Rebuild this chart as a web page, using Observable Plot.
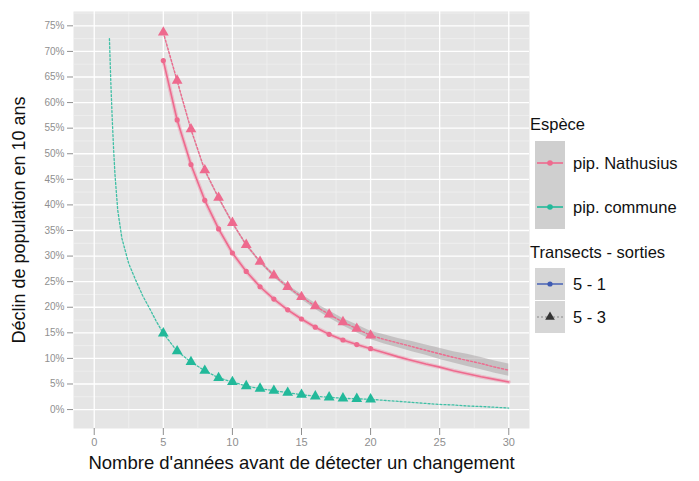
<!DOCTYPE html>
<html><head><meta charset="utf-8">
<script src="https://cdn.jsdelivr.net/npm/d3@7"></script>
<script src="https://cdn.jsdelivr.net/npm/@observablehq/plot@0.6"></script>
<style>
body{margin:0;background:#fff;}
#wrap{position:relative;width:699px;height:481px;font-family:"Liberation Sans",Arial,sans-serif;}
.lt{position:absolute;font-size:16.5px;color:#111;white-space:nowrap;line-height:1;}
.key{position:absolute;}
</style></head><body><div id="wrap"></div>
<script>
// ---- data ----
const years = [5,6,7,8,9,10,11,12,13,14,15,16,17,18,19,20,21,22,23,24,25,26,27,28,29,30];
const markerYears = [5,6,7,8,9,10,11,12,13,14,15,16,17,18,19,20];
const nathusius51 = [68.2,56.6,47.9,40.9,35.3,30.6,27.0,24.0,21.6,19.5,17.7,16.1,14.7,13.6,12.7,11.9,11.1,10.3,9.6,8.9,8.3,7.6,7.0,6.4,5.9,5.4];
const nathusius53 = [73.7,64.3,54.8,46.8,41.4,36.5,32.2,28.9,26.2,24.0,22.0,20.2,18.6,17.1,15.8,14.5,13.7,13.0,12.3,11.6,10.9,10.2,9.6,9.0,8.3,7.7];
const band53 = [0.3,0.3,0.3,0.3,0.3,0.3,0.3,0.3,0.4,0.4,0.5,0.6,0.7,0.7,0.8,0.8,0.9,0.9,1.0,1.0,1.1,1.1,1.2,1.2,1.2,1.2];
const communeYears = [1.1,1.2,1.3,1.4,1.5,1.7,2,2.5,3,3.5,4,4.5,5,6,7,8,9,10,11,12,13,14,15,16,17,18,19,20,21,22,23,24,25,26,27,28,29,30];
const commune53 = [72.5,64,57,51,46,39,33.5,28.5,25.3,22.3,19.8,17.2,14.9,11.4,9.3,7.6,6.2,5.4,4.6,4.1,3.7,3.3,2.9,2.6,2.4,2.2,2.1,2.0,1.8,1.6,1.4,1.2,1.0,0.9,0.7,0.6,0.45,0.3];
const xTicks = [0,5,10,15,20,25,30];
const xMinor = [2.5,7.5,12.5,17.5,22.5,27.5];
const yTicks = [0,5,10,15,20,25,30,35,40,45,50,55,60,65,70,75];
const yMinor = [2.5,7.5,12.5,17.5,22.5,27.5,32.5,37.5,42.5,47.5,52.5,57.5,62.5,67.5,72.5,77.5];
const species = ["pip. Nathusius","pip. commune"];
const transects = ["5 - 1","5 - 3"];
const xTitle = "Nombre d'années avant de détecter un changement";
const yTitle = "Déclin de population en 10 ans";
const legendTitles = ["Espèce","Transects - sorties"];

const PINK = "#EE6A8E", TEAL = "#22B99A", BLUE = "#3E5BB3", DARK = "#333333";

const toRows = (xs, ys) => xs.map((x,i)=>({x, y: ys[i]}));
const n51 = toRows(years, nathusius51);
const n53 = years.map((x,i)=>({x, y: nathusius53[i], lo: nathusius53[i]-band53[i], hi: nathusius53[i]+band53[i]}));
const c53 = toRows(communeYears, commune53);
const onMarkers = rows => rows.filter(d => markerYears.includes(d.x));

const chart = Plot.plot({
  width: 699, height: 481,
  marginLeft: 73, marginRight: 170, marginTop: 11, marginBottom: 53,
  style: {fontFamily: '"Liberation Sans", Arial, sans-serif', color: "#8f8f8f", background: "white"},
  x: {domain: [-1.5, 31.5]},
  y: {domain: [-3.7, 77.8]},
  marks: [
    Plot.frame({fill: "#E5E5E5", stroke: null}),
    Plot.ruleY(yMinor.filter(v => v < 77.8), {stroke: "#F2F2F2", strokeWidth: 0.7}),
    Plot.ruleX(xMinor, {stroke: "#F2F2F2", strokeWidth: 0.7}),
    Plot.ruleY(yTicks, {stroke: "white", strokeWidth: 1.3}),
    Plot.ruleX(xTicks, {stroke: "white", strokeWidth: 1.3}),
    Plot.areaY(n53, {x: "x", y1: "lo", y2: "hi", fill: "#A9A4A6", fillOpacity: 0.55}),
    Plot.line(n51, {x: "x", y: "y", stroke: PINK, strokeWidth: 4, strokeOpacity: 0.3}),
    Plot.line(n51, {x: "x", y: "y", stroke: PINK, strokeWidth: 1.6}),
    Plot.line(n53, {x: "x", y: "y", stroke: PINK, strokeWidth: 1.4, strokeDasharray: "2,2"}),
    Plot.line(c53, {x: "x", y: "y", stroke: TEAL, strokeWidth: 1.3, strokeDasharray: "2,2", strokeOpacity: 0.85}),
    Plot.dot(onMarkers(n51), {x: "x", y: "y", r: 2.6, fill: PINK, stroke: null}),
    Plot.dot(onMarkers(n53), {x: "x", y: "y", r: 4, symbol: "triangle", fill: PINK, stroke: null}),
    Plot.dot(onMarkers(c53), {x: "x", y: "y", r: 4, symbol: "triangle", fill: TEAL, stroke: null}),
    Plot.axisX(xTicks, {tickSize: 7, tickPadding: 3, fontSize: 11, label: null}),
    Plot.axisY(yTicks, {tickSize: 6, tickPadding: 3, fontSize: 10, tickFormat: d => d + "%", label: null}),
    Plot.text([xTitle], {frameAnchor: "bottom", textAnchor: "middle", dy: 40, fontSize: 18.5, fill: "#111"}),
    Plot.text([yTitle], {frameAnchor: "left", textAnchor: "middle", dx: -54, rotate: -90, fontSize: 18, fill: "#111"})
  ]
});
const wrap = document.getElementById("wrap");
wrap.appendChild(chart);

// ---- legend ----
function addText(txt, left, top, size){
  const d = document.createElement("div");
  d.className = "lt"; d.textContent = txt;
  d.style.left = left + "px"; d.style.top = top + "px";
  if (size) d.style.fontSize = size + "px";
  wrap.appendChild(d);
}
function addKey(left, top, w, h, bg, draw){
  const svg = d3.create("svg").attr("class","key").attr("width", w).attr("height", h)
    .style("left", left + "px").style("top", top + "px");
  svg.append("rect").attr("width", w).attr("height", h).attr("fill", bg);
  draw(svg, w, h);
  wrap.appendChild(svg.node());
}
addText(legendTitles[0], 530, 116);
const spColors = [PINK, TEAL];
species.forEach((s, i) => {
  const top = 141 + i * 44;
  addKey(535, top, 30, 44, "#CFCFCF", (svg, w, h) => {
    svg.append("line").attr("x1", 2).attr("x2", w-2).attr("y1", h/2).attr("y2", h/2).attr("stroke", spColors[i]).attr("stroke-width", 1.6);
    svg.append("circle").attr("cx", w/2).attr("cy", h/2).attr("r", 2.8).attr("fill", spColors[i]);
  });
  addText(s, 573, top + 14);
});
addText(legendTitles[1], 530, 244);
transects.forEach((t, i) => {
  const top = 268 + i * 33;
  addKey(535, top, 30, 32, "#D6D6D6", (svg, w, h) => {
    if (i === 0) {
      svg.append("line").attr("x1", 2).attr("x2", w-2).attr("y1", h/2).attr("y2", h/2).attr("stroke", BLUE).attr("stroke-width", 1.4);
      svg.append("circle").attr("cx", w/2).attr("cy", h/2).attr("r", 2.6).attr("fill", BLUE);
    } else {
      svg.append("line").attr("x1", 2).attr("x2", w-2).attr("y1", h/2).attr("y2", h/2).attr("stroke", "#888").attr("stroke-width", 1.2).attr("stroke-dasharray", "2,2");
      svg.append("path").attr("d", d3.symbol(d3.symbolTriangle, 40)()).attr("transform", `translate(${w/2},${h/2})`).attr("fill", DARK);
    }
  });
  addText(t, 573, top + 8);
});
</script>
</body></html>
